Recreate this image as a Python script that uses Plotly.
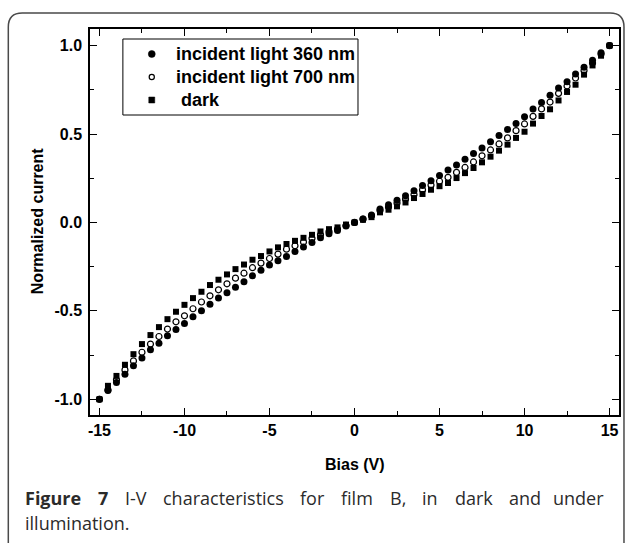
import plotly.graph_objects as go

bias = [-15, -14.5, -14, -13.5, -13, -12.5, -12, -11.5, -11, -10.5, -10, -9.5, -9, -8.5, -8, -7.5,
        -7, -6.5, -6, -5.5, -5, -4.5, -4, -3.5, -3, -2.5, -2, -1.5, -1, -0.5, 0, 0.5, 1, 1.5, 2,
        2.5, 3, 3.5, 4, 4.5, 5, 5.5, 6, 6.5, 7, 7.5, 8, 8.5, 9, 9.5, 10, 10.5, 11, 11.5, 12,
        12.5, 13, 13.5, 14, 14.5, 15]

light_360 = [-1.0, -0.95, -0.905, -0.858, -0.811, -0.766, -0.72, -0.683, -0.641, -0.605, -0.571,
             -0.534, -0.5, -0.462, -0.428, -0.398, -0.366, -0.336, -0.302, -0.27, -0.24, -0.217,
             -0.192, -0.164, -0.139, -0.113, -0.087, -0.064, -0.045, -0.02, 0.0, 0.02, 0.042,
             0.076, 0.1, 0.125, 0.151, 0.179, 0.209, 0.236, 0.266, 0.296, 0.325, 0.357, 0.39,
             0.421, 0.457, 0.491, 0.526, 0.56, 0.598, 0.642, 0.679, 0.719, 0.761, 0.796, 0.84,
             0.877, 0.917, 0.96, 1.0]

light_700 = [-1.0, -0.947, -0.89, -0.834, -0.783, -0.734, -0.688, -0.645, -0.603, -0.562, -0.528,
             -0.488, -0.45, -0.415, -0.381, -0.347, -0.315, -0.287, -0.256, -0.23, -0.204, -0.179,
             -0.151, -0.132, -0.111, -0.09, -0.07, -0.051, -0.038, -0.017, 0.0, 0.019, 0.038,
             0.068, 0.087, 0.11, 0.132, 0.158, 0.185, 0.212, 0.233, 0.255, 0.283, 0.311, 0.342,
             0.377, 0.41, 0.444, 0.478, 0.519, 0.557, 0.6, 0.642, 0.681, 0.73, 0.772, 0.817,
             0.859, 0.902, 0.953, 1.0]

dark = [-1.0, -0.924, -0.868, -0.805, -0.745, -0.688, -0.637, -0.592, -0.547, -0.505, -0.466,
        -0.428, -0.392, -0.354, -0.324, -0.294, -0.264, -0.238, -0.211, -0.19, -0.164, -0.141,
        -0.122, -0.104, -0.087, -0.07, -0.051, -0.038, -0.028, -0.012, 0.0, 0.015, 0.03,
        0.057, 0.072, 0.091, 0.113, 0.138, 0.161, 0.185, 0.205, 0.223, 0.251, 0.279, 0.308,
        0.34, 0.372, 0.406, 0.44, 0.478, 0.513, 0.559, 0.602, 0.64, 0.69, 0.738, 0.779,
        0.836, 0.888, 0.943, 1.0]

series_names = ["incident light 360 nm", "incident light 700 nm", "dark"]
x_ticks = [-15, -10, -5, 0, 5, 10, 15]
y_ticks = [-1.0, -0.5, 0.0, 0.5, 1.0]

caption_words = ["<b>Figure</b>", "<b>7</b>", "I-V", "characteristics", "for", "film", "B,",
                 "in", "dark", "and", "under"]
caption_word_x = [23, 96.4, 123.4, 161.6, 299.2, 340.1, 388.9, 421.6, 454, 508.6, 608]
caption_line2 = "illumination."

W, H = 629, 543
L, R, T, B = 90, 8, 29, 128
PW, PH = W - L - R, H - T - B


def px(xp):
    return (xp - L) / PW


def py(yp):
    return (H - B - yp) / PH


fig = go.Figure()
fig.add_trace(go.Scatter(x=bias, y=dark, mode="markers", name=series_names[2],
                         marker=dict(symbol="square", size=6, color="black")))
fig.add_trace(go.Scatter(x=bias, y=light_700, mode="markers", name=series_names[1],
                         marker=dict(symbol="circle-open", size=6, color="black",
                                     line=dict(width=1.2, color="black"))))
fig.add_trace(go.Scatter(x=bias, y=light_360, mode="markers", name=series_names[0],
                         marker=dict(symbol="circle", size=7, color="black")))

axis_font = dict(family="Liberation Sans, Arial", size=16, color="black", weight="bold")
leg_font = dict(family="Liberation Sans, Arial", size=18, color="black", weight="bold")

fig.update_xaxes(range=[-15.556, 15.556], tickvals=x_ticks, ticktext=[str(v) for v in x_ticks],
                 ticks="inside", ticklen=7, tickwidth=1.3, tickcolor="black",
                 showline=True, linewidth=1.5, linecolor="black", mirror="ticks",
                 showgrid=False, zeroline=False, tickfont=axis_font, ticklabelstandoff=0,
                 minor=dict(dtick=2.5, tick0=0, ticks="inside", ticklen=4, tickwidth=1.2, tickcolor="black"))
fig.update_yaxes(range=[-1.089, 1.094], tickvals=y_ticks, ticktext=["%.1f" % v for v in y_ticks],
                 ticks="inside", ticklen=7, tickwidth=1.3, tickcolor="black",
                 showline=True, linewidth=1.5, linecolor="black", mirror="ticks",
                 showgrid=False, zeroline=False, tickfont=axis_font, ticklabelstandoff=3,
                 minor=dict(dtick=0.25, tick0=0, ticks="inside", ticklen=4, tickwidth=1.2, tickcolor="black"))

# outer rounded frame
lx, rx, ty, by = px(8), px(626), py(13), py(560)
rX, rY = 14 / PW, 14 / PH
path = (f"M {lx},{by} L {lx},{ty - rY} Q {lx},{ty} {lx + rX},{ty} "
        f"L {rx - rX},{ty} Q {rx},{ty} {rx},{ty - rY} L {rx},{by}")
fig.add_shape(type="path", path=path, xref="paper", yref="paper",
              line=dict(color="#4a4a4a", width=1.5), layer="below")

# legend box and symbols (drawn manually to match the reference layout)
fig.add_shape(type="rect", xref="paper", yref="paper", x0=px(123), x1=px(359), y0=py(115), y1=py(39),
              line=dict(color="black", width=1), fillcolor="white", layer="above")
leg_rows = [54, 77, 100]
mx = 152
fig.add_shape(type="circle", xref="paper", yref="paper", x0=px(mx - 3.5), x1=px(mx + 3.5),
              y0=py(leg_rows[0] + 3.5), y1=py(leg_rows[0] - 3.5),
              line=dict(color="black", width=0.5), fillcolor="black", layer="above")
fig.add_shape(type="circle", xref="paper", yref="paper", x0=px(mx - 2.6), x1=px(mx + 2.6),
              y0=py(leg_rows[1] + 2.6), y1=py(leg_rows[1] - 2.6),
              line=dict(color="black", width=1.2), fillcolor="white", layer="above")
fig.add_shape(type="rect", xref="paper", yref="paper", x0=px(mx - 3), x1=px(mx + 3),
              y0=py(leg_rows[2] + 3), y1=py(leg_rows[2] - 3),
              line=dict(color="black", width=0.5), fillcolor="black", layer="above")

cap_font = dict(family="Open Sans, Noto Sans", size=18, color="#2b2b2b")
annotations = [
    dict(text="Bias (V)", x=px(356), y=py(464), xref="paper", yref="paper",
         showarrow=False, font=axis_font, xanchor="center", yanchor="middle"),
    dict(text="Normalized current", x=px(37), y=py(221), xref="paper", yref="paper",
         showarrow=False, font=axis_font, textangle=-90, xanchor="center", yanchor="middle"),
]
for i, name in enumerate(series_names):
    annotations.append(dict(text=name, x=px(174 if i < 2 else 179), y=py(leg_rows[i]),
                            xref="paper", yref="paper", showarrow=False,
                            xanchor="left", yanchor="middle", font=leg_font))
for i, (w, xw) in enumerate(zip(caption_words, caption_word_x)):
    annotations.append(dict(text=w, x=px(xw), y=py(498), xref="paper", yref="paper",
                            showarrow=False, xanchor="right" if i == len(caption_words) - 1 else "left",
                            yanchor="middle", font=cap_font))
annotations.append(dict(text=caption_line2, x=px(23), y=py(523), xref="paper", yref="paper",
                        showarrow=False, xanchor="left", yanchor="middle", font=cap_font))

fig.update_layout(
    width=W, height=H,
    margin=dict(l=L, r=R, t=T, b=B, pad=0),
    paper_bgcolor="white", plot_bgcolor="white",
    showlegend=False,
    annotations=annotations,
)

fig.write_html("out.html")
